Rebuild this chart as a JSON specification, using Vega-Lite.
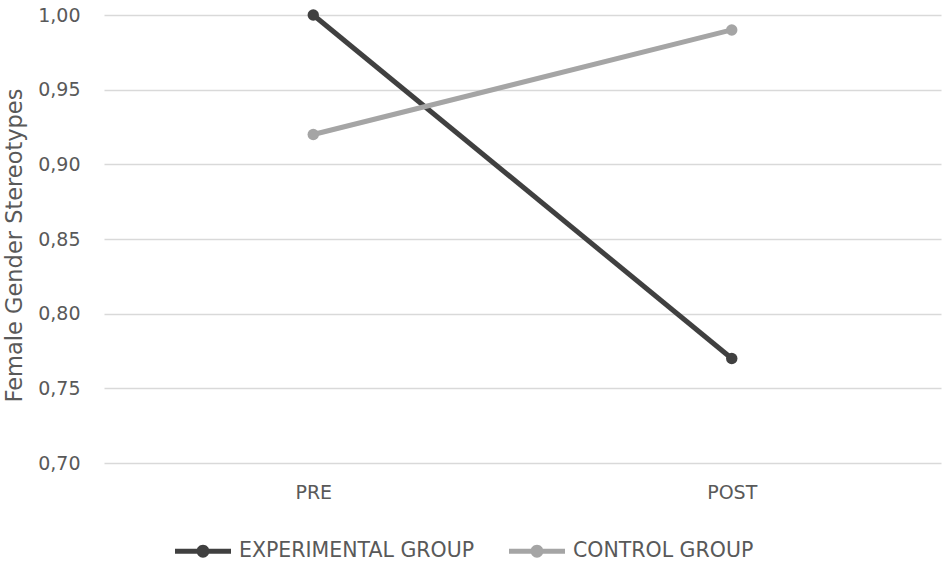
{
  "$schema": "https://vega.github.io/schema/vega-lite/v6.json",
  "autosize": {"type": "none"},
  "padding": {"left": 104, "top": 15, "right": 9, "bottom": 101},
  "width": 837,
  "height": 448,
  "config": {
    "font": "DejaVu Sans",
    "view": {"stroke": null},
    "axis": {"labelColor": "#595959", "titleColor": "#595959", "labelFontSize": 19, "titleFontSize": 22.5, "titleFontWeight": "normal"}
  },
  "data": {
    "values": [
      {"Time": "PRE", "Group": "EXPERIMENTAL GROUP", "Score": 1.00},
      {"Time": "POST", "Group": "EXPERIMENTAL GROUP", "Score": 0.77},
      {"Time": "PRE", "Group": "CONTROL GROUP", "Score": 0.92},
      {"Time": "POST", "Group": "CONTROL GROUP", "Score": 0.99}
    ]
  },
  "encoding": {
    "x": {
      "field": "Time",
      "type": "nominal",
      "sort": ["PRE", "POST"],
      "scale": {"type": "point", "padding": 0.5},
      "title": null,
      "axis": {"labelAngle": 0, "domain": false, "ticks": false, "labelPadding": 20, "grid": false}
    },
    "y": {
      "field": "Score",
      "type": "quantitative",
      "scale": {"domain": [0.7, 1.0], "nice": false, "zero": false},
      "title": "Female Gender Stereotypes",
      "axis": {
        "values": [0.7, 0.75, 0.8, 0.85, 0.9, 0.95, 1.0],
        "labelExpr": "replace(format(datum.value, '.2f'), '.', ',')",
        "domain": false,
        "ticks": false,
        "labelPadding": 24,
        "gridColor": "#D9D9D9",
        "gridWidth": 1.5,
        "titleX": -90,
        "titleY": 230,
        "titleAngle": -90,
        "titleAlign": "center",
        "titleBaseline": "middle"
      }
    },
    "color": {
      "field": "Group",
      "type": "nominal",
      "sort": ["EXPERIMENTAL GROUP", "CONTROL GROUP"],
      "scale": {"domain": ["EXPERIMENTAL GROUP", "CONTROL GROUP"], "range": ["#404040", "#A5A5A5"]},
      "legend": {
        "title": null,
        "orient": "none",
        "direction": "horizontal",
        "legendX": 71,
        "legendY": 508,
        "symbolType": "M-1,-0.09H1V0.09H-1Z M-0.23,0A0.23,0.23 0 1,1 0.23,0A0.23,0.23 0 1,1 -0.23,0Z",
        "symbolSize": 3136,
        "symbolStrokeWidth": 0,
        "labelFontSize": 20.5,
        "labelColor": "#595959",
        "labelLimit": 400,
        "labelOffset": 8,
        "columnPadding": 34
      }
    }
  },
  "layer": [
    {"mark": {"type": "line", "strokeWidth": 5}},
    {"mark": {"type": "point", "filled": true, "size": 130, "opacity": 1}}
  ]
}
